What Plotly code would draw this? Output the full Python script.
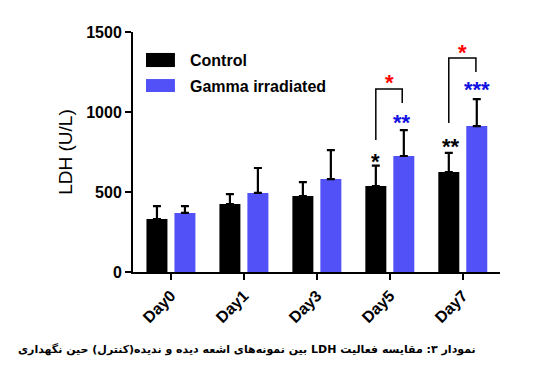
import plotly.graph_objects as go

days = ["Day0", "Day1", "Day3", "Day5", "Day7"]
control = [331, 425, 475, 537, 625]
control_err = [81, 62, 87, 128, 119]
gamma = [369, 494, 581, 725, 912]
gamma_err = [43, 156, 181, 162, 169]
y_ticks = [0, 500, 1000, 1500]

caption = "نمودار ۳: مقایسه فعالیت LDH بین نمونه‌های اشعه دیده و ندیده(کنترل) حین نگهداری"

BLUE = "#5151f7"
FONT = "Liberation Sans, Arial, sans-serif"

fig = go.Figure()
fig.add_trace(go.Bar(
    x=days, y=control, name="Control", marker=dict(color="black", line=dict(width=0)),
    error_y=dict(type="data", array=control_err, arrayminus=[0]*5, symmetric=False,
                 color="black", thickness=2.2, width=4),
))
fig.add_trace(go.Bar(
    x=days, y=gamma, name="Gamma irradiated", marker=dict(color=BLUE, line=dict(width=0)),
    error_y=dict(type="data", array=gamma_err, arrayminus=[0]*5, symmetric=False,
                 color="black", thickness=2.2, width=4),
))

shapes = []
# legend swatches
shapes.append(dict(type="rect", xref="x", yref="y", x0=-0.342, x1=0.055, y0=1281, y1=1369,
                   fillcolor="black", line=dict(width=0)))
shapes.append(dict(type="rect", xref="x", yref="y", x0=-0.342, x1=0.055, y0=1125, y1=1206,
                   fillcolor=BLUE, line=dict(width=0)))
# brackets
shapes.append(dict(type="path", xref="x", yref="y",
                   path="M 2.808 825 L 2.808 1144 L 3.17 1144 L 3.17 1056",
                   line=dict(color="black", width=1.5)))
shapes.append(dict(type="path", xref="x", yref="y",
                   path="M 3.808 931 L 3.808 1337 L 4.18 1337 L 4.18 1250",
                   line=dict(color="black", width=1.5)))

annotations = [
    dict(x=0.233, y=1325, xref="x", yref="y", text="Control", showarrow=False, xanchor="left",
         yanchor="middle", font=dict(family=FONT, size=16, color="black", weight="bold")),
    dict(x=0.233, y=1162, xref="x", yref="y", text="Gamma irradiated", showarrow=False, xanchor="left",
         yanchor="middle", font=dict(family=FONT, size=16, color="black", weight="bold")),
]

stars = [
    (2.808, 731, "*", "black"),
    (3.17, 969, "**", "#1010e0"),
    (2.99, 1219, "*", "#ff0000"),
    (3.84, 819, "**", "black"),
    (4.2, 1181, "***", "#1010e0"),
    (4.0, 1412, "*", "#ff0000"),
]
for x, y, t, c in stars:
    annotations.append(dict(x=x, y=y, xref="x", yref="y", text=t, showarrow=False,
                            xanchor="center", yanchor="middle", yshift=-6,
                            font=dict(family=FONT, size=22, color=c, weight="bold")))

annotations.append(dict(x=0.311, y=-0.321, xref="paper", yref="paper",
                        text="\u202b" + caption + "\u202c", showarrow=False,
                        xanchor="center", yanchor="middle",
                        font=dict(family="DejaVu Sans, sans-serif",
                                  size=11, color="black", weight="bold")))

# the page body adds an 8px offset, so margins are reduced by 8px on the top/left
fig.update_layout(
    width=549, height=384,
    margin=dict(l=125, r=57, t=24, b=120, pad=0),
    paper_bgcolor="white", plot_bgcolor="white",
    barmode="group", bargap=0.233, bargroupgap=0.25,
    showlegend=False,
    shapes=shapes, annotations=annotations,
    font=dict(family=FONT, color="black"),
)
fig.update_xaxes(
    range=[-0.52, 4.51], showline=True, linecolor="black", linewidth=2,
    ticks="outside", ticklen=6, tickwidth=2, tickcolor="black",
    tickangle=-45, tickfont=dict(family=FONT, size=16, weight="bold"),
    showgrid=False, zeroline=False,
)
fig.update_yaxes(
    range=[0, 1500], tickvals=y_ticks, ticktext=[str(v) for v in y_ticks],
    showline=True, linecolor="black", linewidth=2,
    ticks="outside", ticklen=6, tickwidth=2, tickcolor="black",
    tickfont=dict(family=FONT, size=16, weight="bold"),
    title=dict(text="LDH (U/L)", font=dict(family=FONT, size=19), standoff=9),
    showgrid=False, zeroline=False,
)

fig.write_html("out.html")
